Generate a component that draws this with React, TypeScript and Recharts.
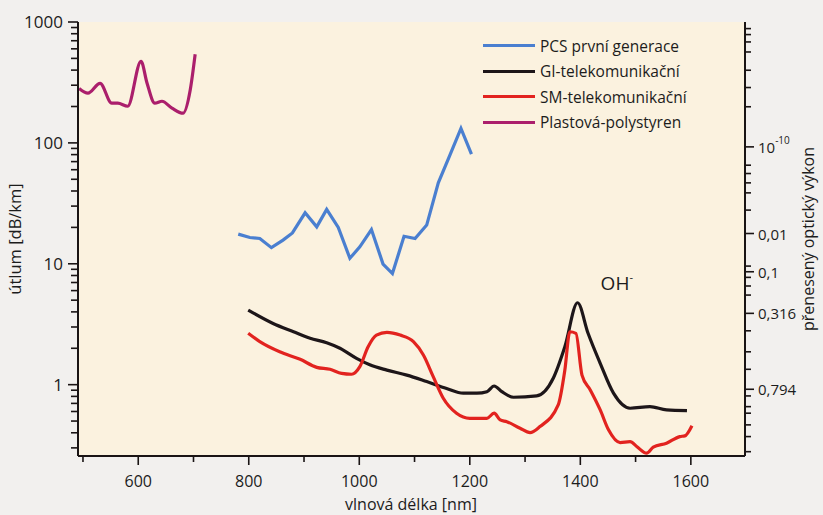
import React from "react";
import {
  LineChart,
  Line,
  XAxis,
  YAxis,
  CartesianGrid,
  ReferenceDot,
  Label,
} from "recharts";

// vlnová délka [nm] / útlum [dB/km]
const pcsNm = [781, 802, 820, 841, 862, 879, 902, 923, 941, 962, 983, 1001, 1022, 1043, 1060, 1081, 1101, 1122, 1143, 1164, 1184, 1203];
const pcsDb = [17.6, 16.5, 16.2, 13.6, 15.7, 18.0, 26.4, 20.2, 28.2, 20.0, 11.1, 13.8, 19.2, 9.95, 8.3, 16.9, 16.2, 20.9, 46.7, 79.1, 131.5, 80.7];

const giNm = [799, 844, 881, 911, 941, 965, 995, 1019, 1050, 1086, 1122, 1158, 1188, 1213, 1231, 1244, 1258, 1279, 1321, 1351, 1372, 1395, 1414, 1436, 1460, 1490, 1526, 1556, 1593];
const giDb = [4.14, 3.21, 2.74, 2.42, 2.22, 2.0, 1.65, 1.46, 1.32, 1.2, 1.06, 0.93, 0.85, 0.85, 0.875, 0.975, 0.875, 0.787, 0.807, 1.13, 2.06, 4.76, 2.66, 1.5, 0.85, 0.638, 0.658, 0.618, 0.61];

const smNm = [799, 820, 856, 893, 923, 947, 968, 986, 1001, 1016, 1031, 1050, 1074, 1098, 1116, 1134, 1152, 1176, 1200, 1231, 1244, 1255, 1267, 1291, 1309, 1327, 1360, 1372, 1381, 1392, 1403, 1418, 1436, 1451, 1472, 1490, 1502, 1520, 1532, 1556, 1580, 1589, 1602];
const smDb = [2.66, 2.27, 1.87, 1.62, 1.39, 1.34, 1.24, 1.22, 1.41, 2.06, 2.57, 2.71, 2.57, 2.27, 1.76, 1.16, 0.773, 0.581, 0.527, 0.527, 0.581, 0.511, 0.494, 0.436, 0.401, 0.45, 0.679, 1.32, 2.74, 2.66, 1.2, 0.904, 0.618, 0.423, 0.332, 0.338, 0.308, 0.271, 0.304, 0.328, 0.372, 0.377, 0.458];

const psNm = [493, 509, 531, 552, 563, 581, 605, 616, 630, 643, 661, 681, 694, 703];
const psDb = [282, 258, 311, 213, 213, 201, 473, 311, 213, 221, 194, 176, 273, 541];

const xTicks = [500, 600, 700, 800, 900, 1000, 1100, 1200, 1300, 1400, 1500, 1600];
const leftTicks = [0.3, 0.4, 0.5, 0.6, 0.7, 0.8, 0.9, 1, 2, 3, 4, 5, 6, 7, 8, 9, 10, 20, 30, 40, 50, 60, 70, 80, 90, 100, 200, 300, 400, 500, 600, 700, 800, 900, 1000];
const leftLabels = [1, 10, 100, 1000];

// přenesený optický výkon – ticks on the right scale
const rightTicks = [0.279, 0.372, 0.465, 0.581, 0.658, 0.807, 0.916, 1.34, 1.87, 2.79, 3.89, 5.51, 6.55, 7.72, 8.59, 9.57, 17.8, 27.8, 38.6, 46.7, 55.8, 65.4, 92.7, 199, 287, 399, 565, 684, 787, 882];
const rightLabelValues = [92.7, 17.8, 8.59, 3.89, 0.916];
const rightLabelTexts = ["10", "0,01", "0,1", "0,316", "0,794"];

const series = [
  { name: "PCS první generace", color: "#4a7fd0", nm: pcsNm, db: pcsDb, type: "linear" },
  { name: "GI-telekomunikační", color: "#1d1619", nm: giNm, db: giDb, type: "monotone" },
  { name: "SM-telekomunikační", color: "#e2231f", nm: smNm, db: smDb, type: "monotone" },
  { name: "Plastová-polystyren", color: "#ab1f6c", nm: psNm, db: psDb, type: "monotone" },
];

const toRows = (nm: number[], db: number[]) => nm.map((x, i) => ({ x, y: db[i] }));

const FONT = "'Open Sans', sans-serif";
const AXIS = "#1a1414";
const TEXT = "#1c1c1c";

const LeftTick = (props: any) => {
  const { x, y, payload } = props;
  const major = leftLabels.includes(payload.value);
  return (
    <g>
      <line x1={x} x2={x - (major ? 10 : 7)} y1={y} y2={y} stroke={AXIS} strokeWidth={1.6} />
      {major && (
        <text x={x - 15} y={y} dy={6} textAnchor="end" fontSize={17} fill={TEXT} fontFamily={FONT}>
          {payload.value}
        </text>
      )}
    </g>
  );
};

const RightTick = (props: any) => {
  const { x, y, payload } = props;
  const idx = rightLabelValues.indexOf(payload.value);
  const major = idx >= 0;
  return (
    <g>
      <line x1={x} x2={x + (major ? 9 : 6)} y1={y} y2={y} stroke={AXIS} strokeWidth={1.6} />
      {major && (
        <text x={x + 13} y={y} dy={6} textAnchor="start" fontSize={15} fill={TEXT} fontFamily={FONT}>
          {rightLabelTexts[idx]}
          {idx === 0 && (
            <tspan dy={-9} fontSize={10}>
              -10
            </tspan>
          )}
        </text>
      )}
    </g>
  );
};

const BottomTick = (props: any) => {
  const { x, y, payload } = props;
  const major = payload.value % 200 === 0;
  return (
    <g>
      <line x1={x} x2={x} y1={y} y2={y + (major ? 9 : 6)} stroke={AXIS} strokeWidth={1.6} />
      {major && (
        <text x={x} y={y + 31} textAnchor="middle" fontSize={16} fill={TEXT} fontFamily={FONT}>
          {payload.value}
        </text>
      )}
    </g>
  );
};

const LegendBox = () => (
  <div
    style={{
      position: "absolute",
      left: 483,
      top: 33,
      fontFamily: FONT,
      fontSize: 15.5,
      color: TEXT,
      pointerEvents: "none",
    }}
  >
    {series.map((s) => (
      <div key={s.name} style={{ display: "flex", alignItems: "center", height: 25.5 }}>
        <span style={{ display: "inline-block", width: 52, height: 3, background: s.color, marginRight: 5 }} />
        <span>{s.name}</span>
      </div>
    ))}
  </div>
);

export default function App() {
  return (
    <div
      style={{
        position: "absolute",
        left: 0,
        top: 0,
        width: 823,
        height: 515,
        background: "#f2f0ee",
      }}
    >
      <LineChart width={823} height={515} margin={{ top: 22, right: 0, bottom: 0, left: 0 }}>
        <CartesianGrid horizontal={false} vertical={false} fill="#fbf2df" yAxisId="left" />
        <XAxis
          dataKey="x"
          type="number"
          domain={[491, 1698]}
          ticks={xTicks}
          interval={0}
          allowDataOverflow
          height={59}
          stroke={AXIS}
          strokeWidth={2}
          tickSize={0}
          tickMargin={0}
          tick={<BottomTick />}
        >
          <Label
            content={() => (
              <text x={411} y={510} textAnchor="middle" fontSize={16} fill={TEXT} fontFamily={FONT}>
                vlnová délka [nm]
              </text>
            )}
          />
        </XAxis>
        <XAxis
          xAxisId="top"
          orientation="top"
          type="number"
          domain={[491, 1698]}
          height={0}
          tick={false}
          tickLine={false}
          stroke={AXIS}
          strokeWidth={2}
        />
        <YAxis
          yAxisId="left"
          scale="log"
          domain={[0.257, 1000]}
          allowDataOverflow
          ticks={leftTicks}
          interval={0}
          width={78}
          stroke={AXIS}
          strokeWidth={2}
          tickSize={0}
          tickMargin={0}
          tick={<LeftTick />}
        >
          <Label
            content={() => (
              <text
                x={0}
                y={0}
                transform="translate(21 239) rotate(-90)"
                textAnchor="middle"
                fontSize={16.5}
                fill={TEXT}
                fontFamily={FONT}
              >
                útlum [dB/km]
              </text>
            )}
          />
        </YAxis>
        <YAxis
          yAxisId="right"
          orientation="right"
          scale="log"
          domain={[0.257, 1000]}
          allowDataOverflow
          ticks={rightTicks}
          interval={0}
          width={78}
          stroke={AXIS}
          strokeWidth={2}
          tickSize={0}
          tickMargin={0}
          tick={<RightTick />}
        >
          <Label
            content={() => (
              <text
                x={0}
                y={0}
                transform="translate(814 239) rotate(-90)"
                textAnchor="middle"
                fontSize={16}
                fill={TEXT}
                fontFamily={FONT}
              >
                přenesený optický výkon
              </text>
            )}
          />
        </YAxis>
        {series.map((s) => (
          <Line
            key={s.name}
            yAxisId="left"
            data={toRows(s.nm, s.db)}
            dataKey="y"
            name={s.name}
            type={s.type as any}
            stroke={s.color}
            strokeWidth={3.2}
            dot={false}
            isAnimationActive={false}
          />
        ))}
        <ReferenceDot
          yAxisId="left"
          x={1466}
          y={6.9}
          r={0}
          stroke="none"
          label={(p: any) => {
            const { viewBox } = p;
            const cx = viewBox.x + (viewBox.width || 0) / 2;
            const cy = viewBox.y + (viewBox.height || 0) / 2;
            return (
              <text x={cx} y={cy + 7} textAnchor="middle" fontSize={19} fill={TEXT} fontFamily={FONT}>
                OH
                <tspan dy={-9} fontSize={11}>
                  -
                </tspan>
              </text>
            );
          }}
        />
      </LineChart>
      <LegendBox />
    </div>
  );
}
